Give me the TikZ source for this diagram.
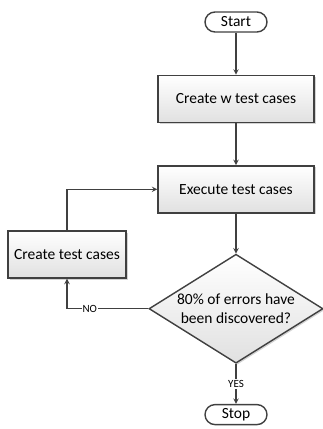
\documentclass[tikz,border=0pt]{standalone}
\usepackage{fontspec}
\setmainfont{Carlito}
\usetikzlibrary{positioning,shapes.geometric,shadows}

\begin{document}
\begin{tikzpicture}[x=1pt, y=1pt,
        node distance = 42pt,
        line/.style = {draw=black!75, line width=1.4pt},
        term/.style = {line, rounded corners=10pt, fill=white, minimum width=62pt, minimum height=20pt, inner sep=0pt, font=\fontsize{15.5}{17}\selectfont},
        proc/.style = {line, top color=white, bottom color=black!12, minimum width=156pt, minimum height=47pt, font=\fontsize{15.5}{17}\selectfont,
                drop shadow={shadow xshift=1.5pt, shadow yshift=-1.5pt, opacity=0.35}},
        decide/.style = {line, diamond, top color=white, bottom color=black!12, minimum width=174pt, minimum height=109pt, inner sep=0pt,
                drop shadow={shadow xshift=1.5pt, shadow yshift=-1.5pt, opacity=0.35}},
        question/.style = {align=center, font=\fontsize{15.5}{19}\selectfont},
        tag/.style = {fill=white, inner sep=1pt, font=\fontsize{11}{12}\selectfont}]

        \useasboundingbox (0,0) rectangle (323,-429);

        \node[term] (start) at (236,-22) {Start};
        \node[proc] (createw) [below=of start] {Create w test cases};
        \node[proc] (execute) [below=of createw] {Execute test cases};
        \node[decide, label={[question]center:80\% of errors have\\been discovered?}] (check) [below=40pt of execute] {};
        \node[term] (stop) [below=40pt of check] {Stop};
        \node[proc, minimum width=118pt] (create) at (67,-254.5) {Create test cases};

        \draw[line, -stealth] (start) -- (createw);
        \draw[line, -stealth] (createw) -- (execute);
        \draw[line, -stealth] (execute) -- (check);
        \draw[line, -stealth] (check) -- node[tag] {YES} (stop);
        \draw[line, -stealth] (check.west) -| node[tag, pos=0.36] {NO} (create.south);
        \draw[line, -stealth] (create.north) |- (execute.west);

\end{tikzpicture}
\end{document}
